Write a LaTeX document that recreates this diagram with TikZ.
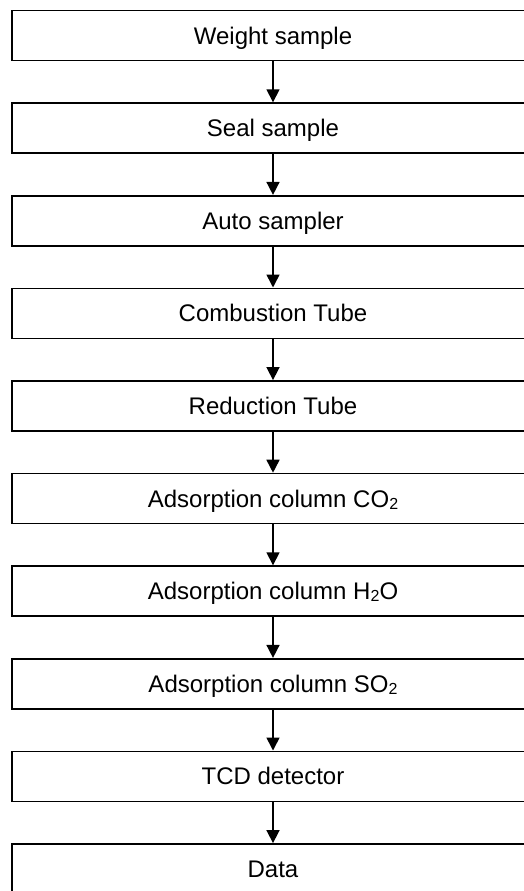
\documentclass[tikz,border=0pt]{standalone}
\usepackage{fontspec}
\setmainfont{Liberation Sans}
\usetikzlibrary{positioning,arrows.meta}
\def\chemsub#1{\raisebox{-2pt}{\fontsize{16}{16}\selectfont #1}}
\tikzset{
  stage/.style={draw, line width=1.6pt, minimum width=522pt, minimum height=50pt,
    inner sep=0pt, text height=17.2pt, text depth=0pt, font=\fontsize{24}{28}\selectfont},
  flow/.style={line width=1.6pt, -{Triangle[width=13pt,length=13pt]}}
}

\begin{document}
\begin{tikzpicture}[node distance=41pt]
		%%%%% START %%%%%
		\useasboundingbox (0,0) rectangle (523pt,-891pt);
		
		\node[stage] (weigh) at (273pt,-35.5pt) {Weight sample};
		\node[stage, below=of weigh] (seal) {Seal sample};
		\node[stage, below=of seal] (auto) {Auto sampler};
		\node[stage, below=of auto] (comb) {Combustion Tube};
		\node[stage, below=of comb] (redu) {Reduction Tube};
		\node[stage, below=of redu] (colco) {Adsorption column CO\chemsub{2}};
		\node[stage, below=of colco] (colho) {Adsorption column H\chemsub{2}O};
		\node[stage, below=of colho] (colso) {Adsorption column SO\chemsub{2}};
		\node[stage, below=of colso] (tcd) {TCD detector};
		\node[stage, below=of tcd] (data) {Data};
		
		\draw[flow] (weigh) -- (seal);
		\draw[flow] (seal) -- (auto);
		\draw[flow] (auto) -- (comb);
		\draw[flow] (comb) -- (redu);
		\draw[flow] (redu) -- (colco);
		\draw[flow] (colco) -- (colho);
		\draw[flow] (colho) -- (colso);
		\draw[flow] (colso) -- (tcd);
		\draw[flow] (tcd) -- (data);
		
		%%%%% END %%%%%
	\end{tikzpicture}
\end{document}
